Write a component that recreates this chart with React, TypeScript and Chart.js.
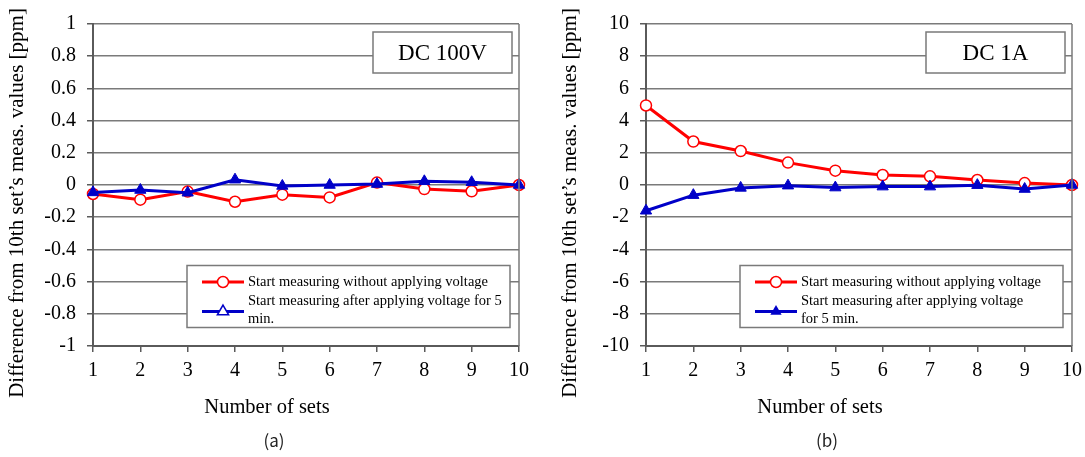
import React, { useEffect, useRef } from 'react';
import { Chart, registerables } from 'chart.js';

Chart.register(...registerables);

// ---------- data ----------
const setLabels = ['1', '2', '3', '4', '5', '6', '7', '8', '9', '10'];

// (a) DC 100V
const voltWithout = [-0.056, -0.091, -0.041, -0.104, -0.06, -0.077, 0.015, -0.025, -0.039, 0];
const voltAfter = [-0.046, -0.031, -0.048, 0.033, -0.006, 0.0, 0.006, 0.023, 0.017, 0];

// (b) DC 1A
const currWithout = [4.94, 2.7, 2.11, 1.39, 0.89, 0.62, 0.54, 0.31, 0.12, 0];
const currAfter = [-1.6, -0.63, -0.18, -0.04, -0.16, -0.1, -0.1, -0.01, -0.25, 0];

const legendRedA = ['Start measuring without applying voltage'];
const legendBlueA = ['Start measuring after applying voltage for 5', 'min.'];
const legendRedB = ['Start measuring without applying voltage'];
const legendBlueB = ['Start measuring after applying voltage', 'for 5 min.'];

const yTitle = 'Difference from 10th set\u2019s meas. values [ppm]';
const xTitle = 'Number of sets';

// ---------- styles ----------
const SERIF = '"Liberation Serif", "Times New Roman", serif';
const GRID = '#7a7a7a';
const AXIS = '#5a5a5a';
const RED = '#ff0000';
const BLUE = '#0000c8';

type Spec = {
  tag: string;
  badge: string;
  min: number;
  max: number;
  step: number;
  red: number[];
  blue: number[];
  legRed: string[];
  legBlue: string[];
  hollowLegendTriangle: boolean;
  width: number;
  axisWidth: number;
  rightPad: number;
  left: number;
};

const specs: Spec[] = [
  {
    tag: '(a)', badge: 'DC 100V', min: -1, max: 1, step: 0.2,
    red: voltWithout, blue: voltAfter, legRed: legendRedA, legBlue: legendBlueA,
    hollowLegendTriangle: true, width: 542, axisWidth: 93, rightPad: 23, left: 0,
  },
  {
    tag: '(b)', badge: 'DC 1A', min: -10, max: 10, step: 2,
    red: currWithout, blue: currAfter, legRed: legendRedB, legBlue: legendBlueB,
    hollowLegendTriangle: false, width: 547, axisWidth: 104, rightPad: 9, left: 542,
  },
];

function drawTriangle(ctx: CanvasRenderingContext2D, x: number, y: number, r: number, hollow: boolean) {
  ctx.beginPath();
  ctx.moveTo(x, y - r);
  ctx.lineTo(x + r * 0.866, y + r * 0.5);
  ctx.lineTo(x - r * 0.866, y + r * 0.5);
  ctx.closePath();
  if (hollow) {
    ctx.fillStyle = '#ffffff';
    ctx.fill();
    ctx.lineWidth = 1.5;
    ctx.strokeStyle = BLUE;
    ctx.stroke();
  } else {
    ctx.fillStyle = BLUE;
    ctx.fill();
  }
}

function decorPlugin(spec: Spec) {
  return {
    id: 'decor',
    afterDraw(chart: any) {
      const ctx: CanvasRenderingContext2D = chart.ctx;
      const a = chart.chartArea;
      ctx.save();

      // right border of the plot area
      ctx.strokeStyle = GRID;
      ctx.lineWidth = 1.5;
      ctx.beginPath();
      ctx.moveTo(a.right, a.top);
      ctx.lineTo(a.right, a.bottom);
      ctx.stroke();

      // badge box
      const bw = 139, bh = 41;
      const bx = a.right - 7 - bw;
      const by = a.top + 8;
      ctx.fillStyle = '#ffffff';
      ctx.fillRect(bx, by, bw, bh);
      ctx.strokeStyle = GRID;
      ctx.lineWidth = 1.5;
      ctx.strokeRect(bx, by, bw, bh);
      ctx.fillStyle = '#000000';
      ctx.font = `23px ${SERIF}`;
      ctx.textAlign = 'center';
      ctx.textBaseline = 'middle';
      ctx.fillText(spec.badge, bx + bw / 2, by + bh / 2 + 1);

      // legend box
      const lw = 323, lh = 62;
      const lx = a.right - 9 - lw;
      const ly = 265.5;
      ctx.fillStyle = '#ffffff';
      ctx.fillRect(lx, ly, lw, lh);
      ctx.strokeStyle = GRID;
      ctx.lineWidth = 1.5;
      ctx.strokeRect(lx, ly, lw, lh);

      // red entry
      const ry = ly + 16.5;
      ctx.strokeStyle = RED;
      ctx.lineWidth = 3;
      ctx.beginPath();
      ctx.moveTo(lx + 15, ry);
      ctx.lineTo(lx + 57, ry);
      ctx.stroke();
      ctx.beginPath();
      ctx.arc(lx + 36, ry, 5.5, 0, Math.PI * 2);
      ctx.fillStyle = '#ffffff';
      ctx.fill();
      ctx.lineWidth = 1.5;
      ctx.stroke();

      // blue entry
      const blY = ly + 46;
      ctx.strokeStyle = BLUE;
      ctx.lineWidth = 3;
      ctx.beginPath();
      ctx.moveTo(lx + 15, blY);
      ctx.lineTo(lx + 57, blY);
      ctx.stroke();
      drawTriangle(ctx, lx + 36, blY, 6.5, spec.hollowLegendTriangle);

      ctx.fillStyle = '#000000';
      ctx.font = `14.5px ${SERIF}`;
      ctx.textAlign = 'left';
      ctx.textBaseline = 'middle';
      spec.legRed.forEach((t, i) => ctx.fillText(t, lx + 61, ry + i * 18));
      spec.legBlue.forEach((t, i) => ctx.fillText(t, lx + 61, ly + 36 + i * 17.5));

      // y axis title
      ctx.save();
      ctx.translate(a.left - 76, 203);
      ctx.rotate(-Math.PI / 2);
      ctx.font = `21px ${SERIF}`;
      ctx.textAlign = 'center';
      ctx.textBaseline = 'middle';
      ctx.fillStyle = '#000000';
      ctx.fillText(yTitle, 0, 0);
      ctx.restore();

      // x axis title
      ctx.font = `20.5px ${SERIF}`;
      ctx.textAlign = 'center';
      ctx.textBaseline = 'middle';
      ctx.fillStyle = '#000000';
      ctx.fillText(xTitle, a.left + 174, 408);

      // panel tag
      ctx.font = '17px "Noto Sans CJK JP", "Noto Sans", sans-serif';
      ctx.fillStyle = '#222222';
      ctx.fillText(spec.tag, a.left + 181, 441);

      ctx.restore();
    },
  };
}

function Panel({ spec }: { spec: Spec }) {
  const ref = useRef<HTMLCanvasElement | null>(null);

  useEffect(() => {
    if (!ref.current) return;
    const chart = new Chart(ref.current, {
      type: 'line',
      data: {
        labels: setLabels,
        datasets: [
          {
            label: spec.legRed.join(' '),
            data: spec.red,
            borderColor: RED,
            borderWidth: 3,
            backgroundColor: '#ffffff',
            pointStyle: 'circle',
            pointRadius: 5.5,
            pointBorderWidth: 1.5,
            pointBorderColor: RED,
            pointBackgroundColor: '#ffffff',
            tension: 0,
            order: 1,
          },
          {
            label: spec.legBlue.join(' '),
            data: spec.blue,
            borderColor: BLUE,
            borderWidth: 3,
            backgroundColor: BLUE,
            pointStyle: 'triangle',
            pointRadius: 6.5,
            pointBorderWidth: 1,
            pointBorderColor: BLUE,
            pointBackgroundColor: BLUE,
            tension: 0,
            order: 0,
          },
        ],
      },
      options: {
        animation: false,
        responsive: false,
        maintainAspectRatio: false,
        layout: { padding: { left: 0, right: spec.rightPad, top: 24, bottom: 0 } },
        plugins: {
          legend: { display: false },
          tooltip: { enabled: false },
          title: { display: false },
        },
        scales: {
          x: {
            type: 'category',
            offset: false,
            grid: {
              drawOnChartArea: false,
              drawTicks: true,
              tickLength: 6,
              tickColor: AXIS,
              lineWidth: 1.5,
            },
            border: { display: true, color: AXIS, width: 2 },
            ticks: {
              color: '#000000',
              font: { family: SERIF, size: 20 },
              padding: 7,
              maxRotation: 0,
              autoSkip: false,
            },
            afterFit: (scale: any) => {
              scale.height = 457 - 346;
            },
          },
          y: {
            min: spec.min,
            max: spec.max,
            grid: {
              color: GRID,
              lineWidth: 1.5,
              drawTicks: true,
              tickLength: 6,
              tickColor: AXIS,
            },
            border: { display: true, color: AXIS, width: 2 },
            ticks: {
              stepSize: spec.step,
              color: '#000000',
              font: { family: SERIF, size: 20 },
              padding: 11,
              callback: (v: any) => String(Number(Number(v).toFixed(1))),
            },
            afterFit: (scale: any) => {
              scale.width = spec.axisWidth;
            },
          },
        },
      },
      plugins: [decorPlugin(spec)],
    });
    return () => chart.destroy();
  }, [spec]);

  return (
    <div style={{ position: 'absolute', left: spec.left, top: 0, width: spec.width, height: 457 }}>
      <canvas ref={ref} width={spec.width} height={457} style={{ display: 'block' }} />
    </div>
  );
}

export default function App() {
  return (
    <div style={{ position: 'fixed', left: 0, top: 0, width: 1085, height: 457, background: '#ffffff', overflow: 'hidden' }}>
      {specs.map((s) => (
        <Panel key={s.tag} spec={s} />
      ))}
    </div>
  );
}
